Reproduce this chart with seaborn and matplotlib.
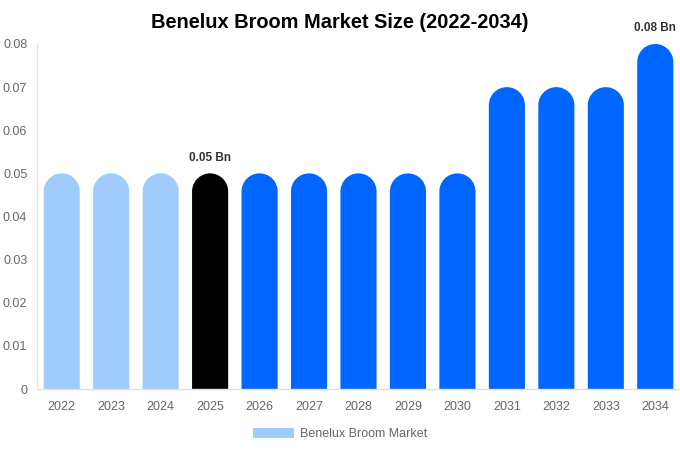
import matplotlib
matplotlib.use("Agg")
import matplotlib.pyplot as plt
import seaborn as sns
import pandas as pd
from matplotlib.path import Path
from matplotlib.patches import PathPatch, Patch

years = ["2022", "2023", "2024", "2025", "2026", "2027", "2028", "2029", "2030",
         "2031", "2032", "2033", "2034"]
values = [0.05, 0.05, 0.05, 0.05, 0.05, 0.05, 0.05, 0.05, 0.05, 0.07, 0.07, 0.07, 0.08]
bar_colors = ["#a0cbfc"] * 3 + ["#000000"] + ["#0066ff"] * 9
label_years = ["2025", "2034"]
series_name = "Benelux Broom Market"
title = "Benelux Broom Market Size (2022-2034)"
yticks = [0, 0.01, 0.02, 0.03, 0.04, 0.05, 0.06, 0.07, 0.08]
ytick_labels = ["0", "0.01", "0.02", "0.03", "0.04", "0.05", "0.06", "0.07", "0.08"]

sns.set_theme(style="white")
plt.rcParams["font.family"] = ["Liberation Sans", "DejaVu Sans"]

df = pd.DataFrame({"year": years, "value": values})

fig = plt.figure(figsize=(6.8, 4.5), dpi=100)
ax = fig.add_axes([37 / 680, 61 / 450, 643 / 680, 345 / 450])
sns.barplot(data=df, x="year", y="value", hue="year", palette=bar_colors,
            legend=False, width=0.73, ax=ax, saturation=1)

ax.set_xlim(-0.5, len(years) - 0.5)
ax.set_ylim(0, 0.08)

# rounded tops
ax_w_px = 643
ax_h_px = 345
x_ppu = ax_w_px / len(years)
y_ppu = ax_h_px / 0.08
k = 0.5523
for p in list(ax.patches):
    x0 = p.get_x()
    w = p.get_width()
    h = p.get_height()
    x1 = x0 + w
    rx = w / 2
    ry = (rx * x_ppu) / y_ppu
    cx = x0 + rx
    yb = h - ry
    verts = [
        (x0, 0), (x0, yb),
        (x0, yb + k * ry), (cx - k * rx, h), (cx, h),
        (cx + k * rx, h), (x1, yb + k * ry), (x1, yb),
        (x1, 0), (x0, 0),
    ]
    codes = [Path.MOVETO, Path.LINETO,
             Path.CURVE4, Path.CURVE4, Path.CURVE4,
             Path.CURVE4, Path.CURVE4, Path.CURVE4,
             Path.LINETO, Path.CLOSEPOLY]
    fc = p.get_facecolor()
    p.set_visible(False)
    ax.add_patch(PathPatch(Path(verts, codes), facecolor=fc, edgecolor="none", lw=0))

for i, (yr, v) in enumerate(zip(years, values)):
    if yr in label_years:
        ax.annotate(f"{v:.2f} Bn", (i, v), xytext=(0, 7), textcoords="offset points",
                    ha="center", va="bottom", fontsize=8.5, fontweight="bold", color="#333333",
                    annotation_clip=False)

ax.set_yticks(yticks)
ax.set_yticklabels(ytick_labels)
ax.tick_params(axis="both", length=0, labelsize=9, colors="#666666")
ax.tick_params(axis="x", pad=9)
ax.tick_params(axis="y", pad=7)
ax.set_xlabel("")
ax.set_ylabel("")
for s in ["top", "right"]:
    ax.spines[s].set_visible(False)
for s in ["left", "bottom"]:
    ax.spines[s].set_color("#e0e0e0")
    ax.spines[s].set_linewidth(1)

fig.text(0.5, 1 - 22 / 450, title, ha="center", va="center", fontsize=14.4,
         fontweight="bold", color="#000000")

handle = Patch(facecolor=bar_colors[0], edgecolor="none")
fig.legend([handle], [series_name], loc="center", bbox_to_anchor=(340 / 680, 1 - 434 / 450),
           frameon=False, fontsize=9, labelcolor="#666666", handlelength=3.3,
           handleheight=0.9, handletextpad=0.5)

fig.savefig("out.png", dpi=100)
